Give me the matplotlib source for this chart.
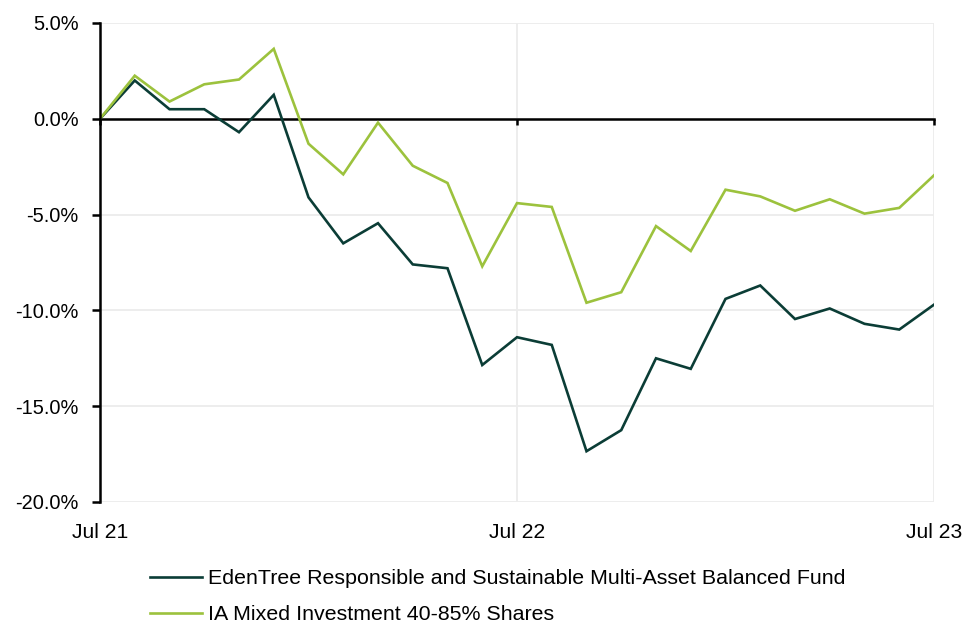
import matplotlib
matplotlib.use("Agg")
import matplotlib.pyplot as plt
from matplotlib.ticker import FuncFormatter, MultipleLocator

plt.rcParams['font.family'] = ['Liberation Sans', 'DejaVu Sans']

months = list(range(25))  # Jul 21 .. Jul 23 monthly
fund = [0.0, 2.0, 0.5, 0.5, -0.7, 1.25, -4.1, -6.5, -5.45, -7.6, -7.8, -12.85,
        -11.4, -11.8, -17.35, -16.25, -12.5, -13.05, -9.4, -8.7, -10.45, -9.9,
        -10.7, -11.0, -9.7]
sector = [0.0, 2.25, 0.9, 1.8, 2.05, 3.65, -1.3, -2.9, -0.2, -2.45, -3.35, -7.7,
          -4.4, -4.6, -9.6, -9.05, -5.6, -6.9, -3.7, -4.05, -4.8, -4.2,
          -4.95, -4.65, -2.95]
tick_pos = [0, 12, 24]
tick_labels = ['Jul 21', 'Jul 22', 'Jul 23']
fund_name = 'EdenTree Responsible and Sustainable Multi-Asset Balanced Fund'
sector_name = 'IA Mixed Investment 40-85% Shares'

dark = '#0b3d36'
green = '#9cc23d'

fig = plt.figure(figsize=(9.65, 6.24), dpi=100)
ax = fig.add_axes([100/965, 1-502/624, 834/965, (502-23)/624])

ax.plot(months, fund, color=dark, lw=1.9, label=fund_name, solid_joinstyle='miter')
ax.plot(months, sector, color=green, lw=1.9, label=sector_name, solid_joinstyle='miter')

ax.set_xlim(0, 24)
ax.set_ylim(-20, 5)
ax.yaxis.set_major_locator(MultipleLocator(5))
ax.yaxis.set_major_formatter(FuncFormatter(lambda v, p: f'{v:.1f}%'))

ax.grid(True, color='#ececec', lw=1.3)
ax.set_axisbelow(True)

for s in ['top', 'right']:
    ax.spines[s].set_visible(False)
ax.spines['left'].set_linewidth(1.8)
ax.spines['left'].set_color('black')
ax.spines['bottom'].set_position(('data', 0))
ax.spines['bottom'].set_linewidth(1.8)
ax.spines['bottom'].set_color('black')
ax.spines['bottom'].set_zorder(1.5)

ax.set_xticks(tick_pos)
ax.tick_params(axis='x', direction='out', length=4, width=1.8, labelbottom=False)
ax.tick_params(axis='y', direction='out', length=6, width=1.8, labelsize=14.4, pad=9.5)

sec = ax.secondary_xaxis('bottom')
sec.set_xticks(tick_pos)
sec.set_xticklabels(tick_labels)
sec.tick_params(length=0, labelsize=15.2, pad=15)
sec.spines['bottom'].set_visible(False)

fig.legend(loc='upper left', bbox_to_anchor=(150/965, 1-569/624), frameon=False,
           fontsize=15.4, handlelength=2.45, handletextpad=0.24, labelspacing=0.8,
           borderaxespad=0, borderpad=0)

fig.savefig('out.png', dpi=100, facecolor='white')
